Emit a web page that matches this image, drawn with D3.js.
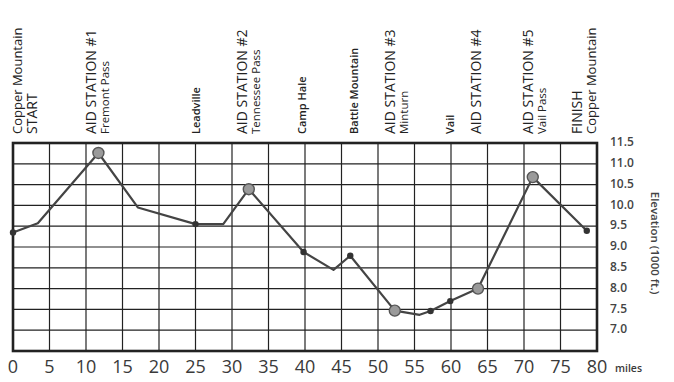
<!DOCTYPE html>
<html>
<head>
<meta charset="utf-8">
<script src="https://cdn.jsdelivr.net/npm/d3@7"></script>
<style>
  body { margin: 0; background: #fff; }
  svg { display: block; font-family: "Open Sans", sans-serif; }
</style>
</head>
<body>
<div id="chart"></div>
<script>
// course profile, miles vs elevation (1000 ft)
var miles = [0, 3.4, 11.7, 17.1, 25, 28.8, 32.3, 39.8, 43.9, 46.2, 52.3, 55.7, 57.2, 59.9, 63.7, 71.2, 78.6];
var elevs = [9.35, 9.57, 11.26, 9.95, 9.55, 9.55, 10.39, 8.88, 8.45, 8.79, 7.47, 7.37, 7.46, 7.7, 8.0, 10.68, 9.39];
// 0 = bend only, 1 = small dot, 2 = aid station
var markType = [1, 0, 2, 0, 1, 0, 2, 1, 0, 1, 2, 0, 1, 1, 2, 2, 1];

var xTicks = d3.range(0, 85, 5);
var yTicks = [11.5, 11.0, 10.5, 10.0, 9.5, 9.0, 8.5, 8.0, 7.5, 7.0];

var labelMiles = [1.2, 11.4, 25.6, 32.1, 40.2, 47.2, 52.3, 60.4, 64.1, 71.3, 77.9];
var labelLines = [
  [["Copper Mountain", "m"], ["START", "b"]],
  [["AID STATION #1", "b"], ["Fremont Pass", "s"]],
  [["Leadville", "t"]],
  [["AID STATION #2", "b"], ["Tennessee Pass", "s"]],
  [["Camp Hale", "t"]],
  [["Battle Mountain", "t"]],
  [["AID STATION #3", "b"], ["Minturn", "s"]],
  [["Vail", "t"]],
  [["AID STATION #4", "b"]],
  [["AID STATION #5", "b"], ["Vail Pass", "s"]],
  [["FINISH", "b"], ["Copper Mountain", "m"]]
];

var W = 674, H = 382;
var pl = 13, pr = 597, pt = 143, pb = 351;

var svg = d3.select("#chart").append("svg")
    .attr("width", W)
    .attr("height", H);

var x = d3.scaleLinear().domain([0, 80]).range([pl, pr]);
var y = d3.scaleLinear().domain([6.5, 11.5]).range([pb, pt]);

// grid
svg.append("g").selectAll("line")
    .data(xTicks.slice(1, -1))
    .enter().append("line")
    .attr("x1", d => x(d)).attr("x2", d => x(d))
    .attr("y1", pt).attr("y2", pb)
    .attr("stroke", "#222").attr("stroke-width", 1.2);

svg.append("g").selectAll("line")
    .data(yTicks.slice(1))
    .enter().append("line")
    .attr("x1", pl).attr("x2", pr)
    .attr("y1", d => y(d)).attr("y2", d => y(d))
    .attr("stroke", "#222").attr("stroke-width", 1.2);

svg.append("rect")
    .attr("x", pl).attr("y", pt)
    .attr("width", pr - pl).attr("height", pb - pt)
    .attr("fill", "none")
    .attr("stroke", "#222")
    .attr("stroke-width", 2.6);

// profile line
var pts = miles.map((m, i) => [m, elevs[i], markType[i]]);
var line = d3.line().x(d => x(d[0])).y(d => y(d[1]));

svg.append("path")
    .datum(pts)
    .attr("d", line)
    .attr("fill", "none")
    .attr("stroke", "#444")
    .attr("stroke-width", 2.2)
    .attr("stroke-linejoin", "round");

svg.append("g").selectAll("circle")
    .data(pts.filter(d => d[2] > 0))
    .enter().append("circle")
    .attr("cx", d => x(d[0]))
    .attr("cy", d => y(d[1]))
    .attr("r", d => d[2] == 2 ? 5.5 : 3.2)
    .attr("fill", d => d[2] == 2 ? "#9a9a9a" : "#333")
    .attr("stroke", d => d[2] == 2 ? "#555" : "none")
    .attr("stroke-width", 1.4);

// x tick labels
svg.append("g").selectAll("text")
    .data(xTicks)
    .enter().append("text")
    .attr("x", d => x(d))
    .attr("y", 373)
    .attr("text-anchor", "middle")
    .attr("font-size", 18)
    .attr("fill", "#3a3a3a")
    .text(d => d);

svg.append("text")
    .attr("x", 615).attr("y", 372)
    .attr("font-size", 10.5)
    .attr("font-weight", 600)
    .attr("fill", "#3a3a3a")
    .text("miles");

// y tick labels
svg.append("g").selectAll("text")
    .data(yTicks)
    .enter().append("text")
    .attr("x", 610)
    .attr("y", d => y(d) - 1)
    .attr("dy", "0.35em")
    .attr("font-size", 12)
    .attr("font-weight", 600)
    .attr("fill", "#444")
    .text(d => d.toFixed(1));

svg.append("text")
    .attr("transform", "translate(651," + ((pt + pb) / 2 - 4) + ") rotate(90)")
    .attr("text-anchor", "middle")
    .attr("font-size", 11.5)
    .attr("font-weight", 600)
    .attr("fill", "#444")
    .text("Elevation (1000 ft.)");

// stop labels, rotated, reading upward
var sizes = { b: 14, m: 13, s: 11.5, t: 11 };
labelLines.forEach(function(lines, i) {
    var bx = x(labelMiles[i]);
    lines.forEach(function(ln, j) {
        if (j > 0) bx += sizes[ln[1]] + 1.5;
        svg.append("text")
            .attr("transform", "translate(" + bx + ",134) rotate(-90)")
            .attr("font-size", sizes[ln[1]])
            .attr("font-weight", ln[1] == "t" ? 600 : 400)
            .attr("fill", "#222")
            .text(ln[0]);
    });
});
</script>
</body>
</html>
